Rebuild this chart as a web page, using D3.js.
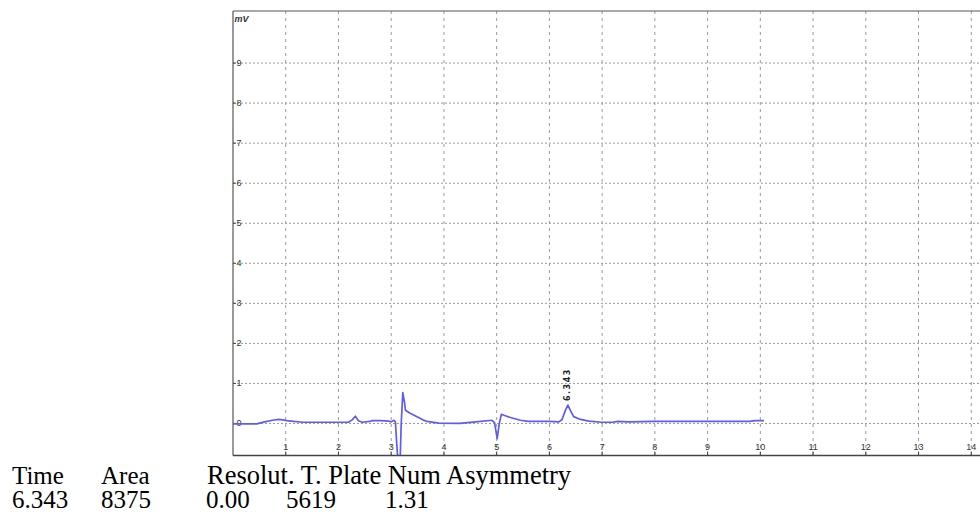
<!DOCTYPE html>
<html lang="en">
<head>
    <meta charset="UTF-8">
    <title>Chromatogram</title>
    <style>
        body {
            margin: 0;
            padding: 0;
            background-color: #ffffff;
        }
        svg {
            display: block;
        }
        .tbl {
            font-family: "Liberation Serif", "Times New Roman", serif;
            font-size: 25px;
            fill: #000;
        }
        .tick-lbl {
            font-family: "Liberation Sans Narrow", "Liberation Sans", sans-serif;
            font-size: 9px;
            fill: #333;
        }
    </style>
</head>
<body>
    <svg width="980" height="515"></svg>

    <script src="https://d3js.org/d3.v7.min.js"></script>
    <script>
        // chromatogram trace (minutes, mV)
        let times = [0, 0.45, 0.6, 0.75, 0.86, 0.95, 1.02, 1.15, 1.33, 1.6, 2.0, 2.19, 2.26, 2.32, 2.38, 2.45,
            2.6, 2.64, 2.8, 2.95, 3.0, 3.05, 3.08, 3.1, 3.14, 3.17, 3.19, 3.22, 3.25, 3.27, 3.35, 3.49, 3.6,
            3.68, 3.9, 4.3, 4.6, 4.91, 4.96, 5.01, 5.05, 5.09, 5.15, 5.26, 5.45, 5.6, 6.0, 6.18, 6.24, 6.3,
            6.35, 6.4, 6.46, 6.59, 6.75, 7.0, 7.2, 7.3, 7.5, 8.0, 9.0, 9.8, 9.9, 10.07];
        let signal = [-0.01, -0.01, 0.04, 0.08, 0.1, 0.09, 0.07, 0.05, 0.03, 0.03, 0.03, 0.03, 0.09, 0.18, 0.07, 0.03,
            0.05, 0.07, 0.07, 0.06, 0.04, 0.08, 0.04, -0.4, -1.2, -0.9, 0.0, 0.77, 0.55, 0.33, 0.26, 0.17, 0.09,
            0.05, 0.01, 0.0, 0.04, 0.08, 0.02, -0.38, 0.0, 0.23, 0.2, 0.15, 0.08, 0.05, 0.05, 0.04, 0.1, 0.32,
            0.46, 0.32, 0.17, 0.1, 0.06, 0.03, 0.03, 0.05, 0.04, 0.05, 0.05, 0.05, 0.07, 0.07];

        let xTicks = [1, 2, 3, 4, 5, 6, 7, 8, 9, 10, 11, 12, 13, 14];
        let yTicks = [0, 1, 2, 3, 4, 5, 6, 7, 8, 9];
        let yUnit = "mV";

        let peakTime = 6.343;
        let peakHeight = 0.46;

        let tableHead = ["Time", "Area", "Resolut. T. Plate Num Asymmetry"];
        let tableRow = ["6.343", "8375", "0.00", "5619", "1.31"];

        let svg = d3.select("svg");

        let pLeft = 233, pTop = 11, pBottom = 455.5, pRight = 1024;

        let x = d3.scaleLinear().domain([0, 15]).range([pLeft, pRight]);
        let y = d3.scaleLinear().domain([-0.8, 10.3]).range([pBottom, pTop]);

        svg.append("clipPath").attr("id", "plotclip")
            .append("rect")
            .attr("x", pLeft).attr("y", pTop)
            .attr("width", pRight - pLeft).attr("height", pBottom - pTop);

        // grid
        let grid = svg.append("g");
        grid.selectAll(".hg")
            .data(yTicks)
            .enter()
            .append("line")
            .attr("x1", pLeft).attr("x2", pRight)
            .attr("y1", d => y(d)).attr("y2", d => y(d))
            .attr("stroke", "#9a9a9a")
            .attr("stroke-width", 1)
            .attr("stroke-dasharray", "2,2");
        grid.selectAll(".vg")
            .data(xTicks)
            .enter()
            .append("line")
            .attr("x1", d => x(d)).attr("x2", d => x(d))
            .attr("y1", pTop).attr("y2", pBottom)
            .attr("stroke", "#9a9a9a")
            .attr("stroke-width", 1)
            .attr("stroke-dasharray", "3,4");

        // frame
        svg.append("line")
            .attr("x1", pLeft).attr("x2", pRight)
            .attr("y1", pTop).attr("y2", pTop)
            .attr("stroke", "#555").attr("stroke-width", 1.2);
        svg.append("line")
            .attr("x1", pLeft).attr("x2", pLeft)
            .attr("y1", pTop).attr("y2", pBottom)
            .attr("stroke", "#555").attr("stroke-width", 1.2);

        // y ticks + labels
        let yt = svg.append("g");
        yt.selectAll("line")
            .data(yTicks)
            .enter()
            .append("line")
            .attr("x1", pLeft).attr("x2", pLeft + 3)
            .attr("y1", d => y(d)).attr("y2", d => y(d))
            .attr("stroke", "#444");
        yt.selectAll("text")
            .data(yTicks)
            .enter()
            .append("text")
            .attr("class", "tick-lbl")
            .attr("x", pLeft + 3.5)
            .attr("y", d => y(d) + 3)
            .text(d => d);

        svg.append("text")
            .attr("class", "tick-lbl")
            .attr("x", pLeft + 1.5)
            .attr("y", y(10) - 1)
            .style("font-weight", "bold")
            .style("font-style", "italic")
            .text(yUnit);

        // x ticks + labels
        let xt = svg.append("g");
        xt.selectAll("line")
            .data(xTicks)
            .enter()
            .append("line")
            .attr("x1", d => x(d)).attr("x2", d => x(d))
            .attr("y1", pBottom).attr("y2", pBottom - 4)
            .attr("stroke", "#444");
        xt.selectAll("text")
            .data(xTicks)
            .enter()
            .append("text")
            .attr("class", "tick-lbl")
            .attr("x", d => x(d))
            .attr("y", pBottom - 5.5)
            .attr("text-anchor", "middle")
            .text(d => d);

        // trace
        let line = d3.line()
            .x((d, i) => x(times[i]))
            .y(d => y(d));
        svg.append("path")
            .datum(signal)
            .attr("clip-path", "url(#plotclip)")
            .attr("d", line)
            .attr("fill", "none")
            .attr("stroke", "#5c5cf6")
            .attr("stroke-width", 1.7)
            .attr("stroke-linejoin", "round");

        // peak label
        svg.append("text")
            .attr("transform", "translate(" + (x(peakTime) + 3) + "," + (y(peakHeight) - 4) + ") rotate(-90)")
            .style("font-family", "DejaVu Sans, sans-serif")
            .style("font-size", "8px")
            .style("font-weight", "bold")
            .style("letter-spacing", "1.5px")
            .attr("fill", "#222")
            .text(peakTime.toFixed(3));

        // bottom axis on top of trace
        svg.append("line")
            .attr("x1", pLeft).attr("x2", pRight)
            .attr("y1", pBottom).attr("y2", pBottom)
            .attr("stroke", "#444").attr("stroke-width", 1.4);

        // results table
        let headX = [12, 101, 207];
        let headSize = [25, 25, 26.5];
        let rowX = [12, 101, 206, 286, 385];
        svg.selectAll(".head")
            .data(tableHead)
            .enter()
            .append("text")
            .attr("class", "tbl")
            .attr("x", (d, i) => headX[i])
            .attr("y", 484)
            .style("font-size", (d, i) => headSize[i] + "px")
            .text(d => d);
        svg.selectAll(".row")
            .data(tableRow)
            .enter()
            .append("text")
            .attr("class", "tbl")
            .attr("x", (d, i) => rowX[i])
            .attr("y", 508)
            .text(d => d);
    </script>
</body>
</html>
